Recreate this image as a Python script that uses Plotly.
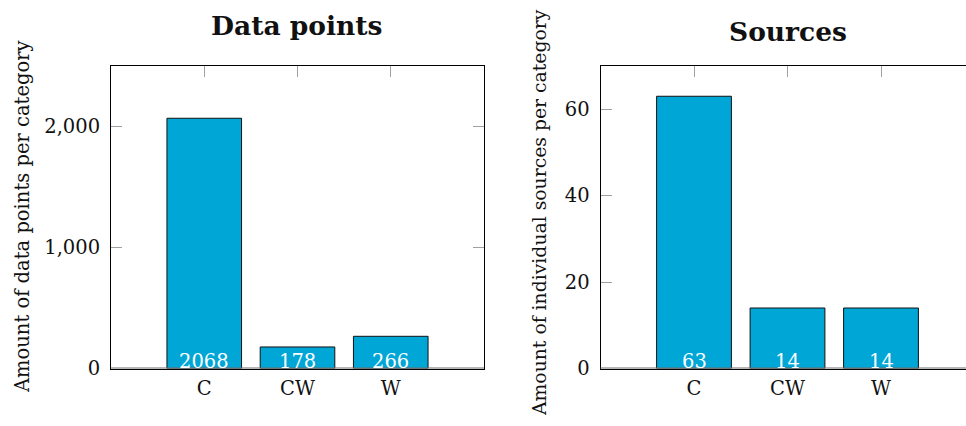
import plotly.graph_objects as go

# Category counts shown in the two panels
categories = ["C", "CW", "W"]
data_points = [2068, 178, 266]
sources = [63, 14, 14]

panel_titles = ["Data points", "Sources"]
y_titles = ["Amount of data points per category",
            "Amount of individual sources per category"]

BAR_COLOR = "#00A6D6"
TICK_GRAY = "#A0A0A0"
FONT = "DejaVu Serif"
FS = 19.5
W, H = 966, 426

fig = go.Figure()

positions = list(range(len(categories)))

for i, values in enumerate([data_points, sources]):
    xa = "x" if i == 0 else "x2"
    ya = "y" if i == 0 else "y2"
    fig.add_trace(go.Bar(
        x=positions, y=values, xaxis=xa, yaxis=ya,
        width=0.8,
        marker=dict(color=BAR_COLOR, line=dict(color="#111111", width=1)),
        hoverinfo="skip", showlegend=False,
    ))
    # value labels sitting at the foot of each bar
    for p, v in zip(positions, values):
        fig.add_annotation(
            x=p, y=0, xref=xa, yref=ya, text=str(v), showarrow=False,
            yanchor="bottom", yshift=-6,
            font=dict(family=FONT, size=FS, color="white"),
        )

y_bottom = 1 - 368.5 / H
y_top = 1 - 66 / H
left_dom = [111 / W, 484 / W]
right_dom = [600.5 / W, 1.0]

common_x = dict(
    tickmode="array", tickvals=positions, ticktext=categories,
    showline=True, linecolor="black", linewidth=1, mirror="ticks",
    ticks="inside", ticklen=11, tickcolor=TICK_GRAY, tickwidth=1,
    showgrid=False, zeroline=False, layer="below traces",
    tickfont=dict(family=FONT, size=FS, color="#111111"),
    ticklabelstandoff=2, fixedrange=True,
)
common_y = dict(
    showline=True, linecolor="black", linewidth=1,
    ticks="inside", ticklen=11, tickcolor=TICK_GRAY, tickwidth=1,
    showgrid=False, zeroline=False,
    tickfont=dict(family=FONT, size=FS, color="#111111"),
    ticklabelstandoff=6, fixedrange=True,
)

fig.update_layout(
    width=W, height=H,
    margin=dict(l=0, r=0, t=0, b=0, autoexpand=False),
    paper_bgcolor="white", plot_bgcolor="white",
    bargap=0.2,
    xaxis=dict(common_x, domain=left_dom, range=[-1, 3], anchor="y"),
    yaxis=dict(common_y, domain=[y_bottom, y_top], range=[0, 2500],
               tickvals=[0, 1000, 2000], tickformat=",d", mirror="ticks",
               anchor="x"),
    xaxis2=dict(common_x, domain=right_dom,
                range=[-1, -1 + (W - 600.5) / 93.5], anchor="y2"),
    yaxis2=dict(common_y, domain=[y_bottom, y_top], range=[0, 70],
                tickvals=[0, 20, 40, 60], mirror=False, anchor="x2"),
)

# heavier gray baseline along y = 0
for xa, ya in [("x", "y"), ("x2", "y2")]:
    fig.add_shape(type="line", xref=f"{xa} domain", yref=ya,
                  x0=0, x1=1, y0=0, y1=0,
                  line=dict(color="#6E6E6E", width=2))

# panel titles
fig.add_annotation(x=297 / W, y=1 - 26 / H, xref="paper", yref="paper",
                   text="<b>" + panel_titles[0] + "</b>", showarrow=False,
                   xanchor="center", yanchor="middle",
                   font=dict(family=FONT, size=26.5, color="#111111"))
fig.add_annotation(x=788 / W, y=1 - 31 / H, xref="paper", yref="paper",
                   text="<b>" + panel_titles[1] + "</b>", showarrow=False,
                   xanchor="center", yanchor="middle",
                   font=dict(family=FONT, size=26.5, color="#111111"))

# rotated y-axis titles
fig.add_annotation(x=22 / W, y=1 - 217 / H, xref="paper", yref="paper",
                   text=y_titles[0], showarrow=False, textangle=-90,
                   xanchor="center", yanchor="middle",
                   font=dict(family=FONT, size=FS, color="#111111"))
fig.add_annotation(x=539 / W, y=1 - 213 / H, xref="paper", yref="paper",
                   text=y_titles[1], showarrow=False, textangle=-90,
                   xanchor="center", yanchor="middle",
                   font=dict(family=FONT, size=18.8, color="#111111"))

fig.write_html("out.html")
